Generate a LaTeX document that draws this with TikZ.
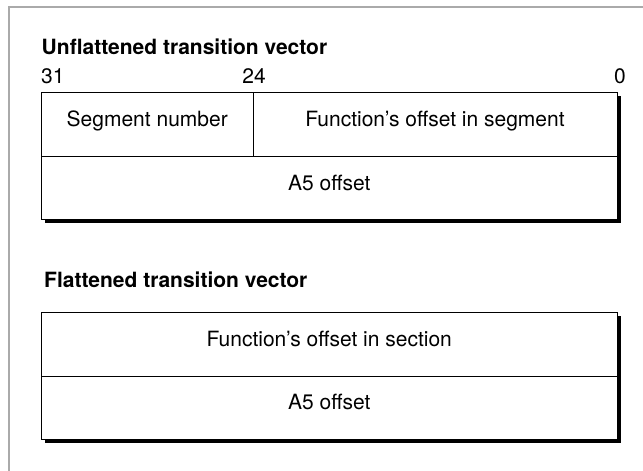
\documentclass[tikz,border=0pt]{standalone}
\usepackage{fontspec}
\setmainfont{TeX Gyre Heros}
\usetikzlibrary{positioning, backgrounds}
\definecolor{frameGray}{RGB}{170, 170, 170}
\tikzset{
  cell/.style={rectangle, draw=black, line width=1pt, fill=white, inner sep=0pt, outer sep=0pt, text height=0.72em, text depth=0.24em, align=center},
  heading/.style={anchor=base west, inner sep=0pt, font=\fontsize{21}{25}\selectfont\bfseries},
  bitno/.style={anchor=base, inner sep=0pt},
  shadowbox/.style={fill=black}
}

\begin{document}
\begin{tikzpicture}[x=1pt, y=-1pt, font=\fontsize{21}{25}\selectfont]
            \useasboundingbox (0,0) rectangle (643,471);
            % Marco gris
            \draw[frameGray, line width=1.3pt] (9,471) -- (9,7) -- (643,7);

            % Vector sin aplanar
            \node[heading] (tituloA) at (41.5,54) {Unflattened transition vector};
            \node[cell, minimum width=211.5, minimum height=64] (segnum) at (147.25,124.5) {Segment number};
            \node[cell, minimum width=364, minimum height=64, anchor=west] (fnseg) at (segnum.east) {Function’s offset in segment};
            \node[cell, minimum width=575.5, minimum height=63, anchor=north west] (afiveA) at (segnum.south west) {A5 offset};
            \node[bitno, anchor=base west] (bitA) at (41,83.5) {31};
            \node[bitno] (bitB) at (254,83.5) {24};
            \node[bitno] (bitC) at (620,83.5) {0};

            % Vector aplanado
            \node[heading] (tituloB) at (44,287) {Flattened transition vector};
            \node[cell, minimum width=575.5, minimum height=64] (fnsec) at (329.25,344) {Function’s offset in section};
            \node[cell, minimum width=575.5, minimum height=63, anchor=north west] (afiveB) at (fnsec.south west) {A5 offset};

            % Sombras
            \begin{scope}[on background layer]
                \fill[shadowbox] ([shift={(3.5,3.5)}]segnum.north west) rectangle ([shift={(3.5,3.5)}]afiveA.south east);
                \fill[shadowbox] ([shift={(3.5,3.5)}]fnsec.north west) rectangle ([shift={(3.5,3.5)}]afiveB.south east);
            \end{scope}
        \end{tikzpicture}
\end{document}
